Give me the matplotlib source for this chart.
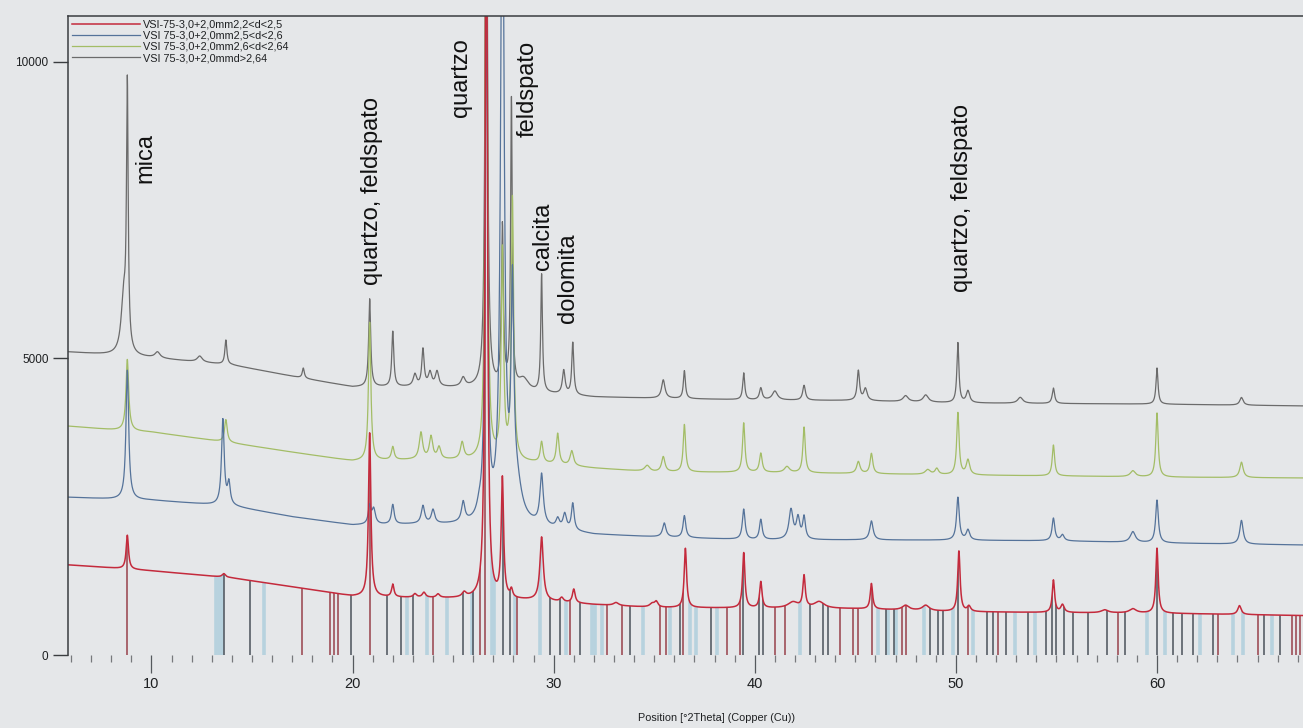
import numpy as np
import matplotlib
matplotlib.use('Agg')
import matplotlib.pyplot as plt
from matplotlib import font_manager

# ---------------- data ----------------
series_labels = ['VSI-75-3,0+2,0mm2,2<d<2,5',
                 'VSI 75-3,0+2,0mm2,5<d<2,6',
                 'VSI 75-3,0+2,0mm2,6<d<2,64',
                 'VSI 75-3,0+2,0mmd>2,64']

# background anchors (2theta) shared by all scans
base_x = [5.85, 8, 10, 14, 17, 20, 23, 26, 29, 32, 35, 40, 45, 50, 55, 60, 67.3]
red_base = [1520, 1470, 1420, 1300, 1150, 990, 965, 950, 920, 850, 800, 790, 780, 730, 715, 705, 665]
blue_base = [2660, 2630, 2610, 2510, 2330, 2190, 2200, 2190, 2160, 2030, 1990, 1940, 1940, 1935, 1925, 1890, 1855]
green_base = [3860, 3800, 3760, 3575, 3420, 3270, 3290, 3280, 3240, 3150, 3085, 3080, 3060, 3035, 3020, 3000, 2985]
gray_base = [5110, 5060, 5010, 4890, 4700, 4520, 4520, 4500, 4420, 4350, 4330, 4300, 4290, 4250, 4240, 4230, 4200]

# peaks: position (2theta), height above background (counts), half width (2theta)
red_pk_pos = [8.8, 13.6, 20.85, 22.0, 23.1, 23.55, 24.25, 25.55, 26.65, 27.45, 27.9, 29.4, 30.4, 31.0,
              33.1, 34.9, 35.1, 36.55, 39.45, 40.3, 41.9, 42.45, 43.2, 45.8, 47.5, 48.5, 50.15, 50.65,
              54.85, 55.3, 57.4, 58.8, 60.0, 64.1]
red_pk_h = [570, 60, 2760, 210, 60, 85, 60, 80, 14000, 2000, 130, 1070, 70, 230,
            50, 60, 90, 1000, 930, 440, 100, 530, 110, 430, 80, 90, 1020, 90,
            545, 130, 50, 70, 1095, 150]
red_pk_w = [0.07, 0.1, 0.07, 0.07, 0.1, 0.1, 0.1, 0.12, 0.06, 0.07, 0.07, 0.1, 0.1, 0.08,
            0.15, 0.15, 0.1, 0.07, 0.07, 0.07, 0.3, 0.07, 0.3, 0.07, 0.2, 0.2, 0.07, 0.1,
            0.07, 0.1, 0.2, 0.2, 0.07, 0.1]

blue_pk_pos = [8.8, 13.55, 13.85, 20.85, 21.05, 22.0, 23.5, 24.0, 25.5, 26.3, 26.65, 27.45, 27.95, 28.15,
               29.4, 30.2, 30.55, 30.95, 35.5, 36.5, 39.45, 40.3, 41.8, 42.15, 42.45, 45.8, 50.1, 50.6,
               54.85, 55.3, 58.8, 60.0, 64.2]
blue_pk_h = [2180, 1440, 360, 300, 250, 330, 300, 230, 330, 150, 9000, 12000, 3500, 600,
             840, 150, 250, 450, 235, 370, 510, 340, 500, 350, 370, 320, 720, 170,
             380, 100, 180, 720, 400]
blue_pk_w = [0.08, 0.08, 0.08, 0.08, 0.1, 0.08, 0.1, 0.1, 0.1, 0.15, 0.07, 0.1, 0.08, 0.3,
             0.1, 0.1, 0.1, 0.08, 0.1, 0.08, 0.08, 0.08, 0.12, 0.1, 0.08, 0.1, 0.08, 0.1,
             0.08, 0.1, 0.15, 0.08, 0.1]

green_pk_pos = [8.8, 13.7, 20.85, 22.0, 23.4, 23.9, 24.3, 25.45, 26.65, 27.45, 27.95, 29.4, 30.2, 30.9,
                34.65, 35.45, 36.5, 39.45, 40.3, 41.6, 42.45, 45.15, 45.8, 48.6, 49.05, 50.1, 50.6,
                54.85, 58.8, 60.0, 64.2]
green_pk_h = [1200, 380, 2330, 220, 450, 380, 200, 280, 12000, 3500, 4400, 350, 520, 250,
              100, 255, 800, 830, 320, 100, 770, 200, 340, 80, 100, 1045, 250,
              520, 100, 1080, 260]
green_pk_w = [0.08, 0.08, 0.07, 0.08, 0.1, 0.1, 0.1, 0.1, 0.06, 0.07, 0.07, 0.08, 0.08, 0.1,
              0.15, 0.1, 0.07, 0.07, 0.08, 0.15, 0.07, 0.1, 0.08, 0.15, 0.1, 0.07, 0.1,
              0.07, 0.15, 0.07, 0.1]

gray_pk_pos = [8.62, 8.8, 10.3, 12.4, 13.7, 17.55, 20.85, 22.0, 23.1, 23.5, 23.85, 24.2, 25.5, 26.65,
               27.45, 27.9, 28.5, 29.4, 30.5, 30.95, 35.45, 36.5, 39.45, 40.3, 41.0, 42.45, 45.15,
               45.5, 47.5, 48.5, 50.1, 50.6, 53.2, 54.85, 60.0, 64.2]
gray_pk_h = [950, 4350, 100, 100, 410, 170, 1480, 930, 200, 620, 230, 250, 150, 12000,
             2700, 4850, 200, 1980, 400, 880, 310, 470, 450, 200, 150, 250, 500,
             200, 100, 120, 1010, 200, 100, 260, 610, 130]
gray_pk_w = [0.15, 0.05, 0.15, 0.15, 0.06, 0.06, 0.06, 0.06, 0.1, 0.07, 0.1, 0.1, 0.12, 0.06,
             0.06, 0.05, 0.3, 0.05, 0.08, 0.06, 0.1, 0.06, 0.06, 0.08, 0.15, 0.08, 0.07,
             0.1, 0.15, 0.15, 0.06, 0.1, 0.15, 0.07, 0.06, 0.1]

# reference patterns (stick positions, 2theta)
sticks_lightblue = [13.2, 13.35, 13.5, 15.6, 22.7, 23.7, 24.7, 25.95, 26.95, 27.05, 28.1, 29.3, 30.6,
                    31.9, 32.05, 32.4, 34.45, 35.8, 36.8, 37.1, 38.1, 42.25, 46.15, 46.6, 47.0, 48.4,
                    49.85, 50.85, 52.95, 53.95, 59.5, 60.4, 62.15, 63.8, 64.3, 65.7]
sticks_dark = [13.6, 14.9, 19.9, 21.7, 22.4, 23.0, 25.5, 26.0, 27.5, 27.85, 29.8, 30.3, 31.3, 33.8,
               36.3, 37.8, 39.4, 40.2, 40.4, 42.75, 43.4, 43.65, 46.5, 46.9, 48.7, 49.1, 49.35, 50.1,
               51.55, 51.85, 52.5, 53.6, 54.5, 54.8, 55.0, 55.4, 55.8, 56.55, 57.5, 58.4, 60.0, 60.8,
               61.25, 61.8, 62.8, 65.3, 66.1]
sticks_brown = [8.8, 17.5, 18.9, 19.1, 19.3, 20.85, 24.0, 26.35, 26.6, 28.2, 30.8, 32.65, 33.4, 35.3,
                35.6, 36.45, 38.6, 39.25, 41.0, 41.5, 44.25, 44.9, 45.15, 45.85, 47.3, 47.5, 50.6,
                52.1, 58.05, 63.05, 65.0, 66.7, 66.9, 67.1]

ann_text = ['mica', 'quartzo, feldspato', 'quartzo', 'feldspato', 'calcita', 'dolomita',
            'quartzo, feldspato']
ann_x = [9.7, 20.95, 25.41, 28.69, 29.48, 30.73, 50.31]
ann_y = [7960, 6240, 9070, 8730, 6490, 5600, 6120]

major_ticks = [10, 20, 30, 40, 50, 60]
minor_ticks = list(range(6, 68))
y_ticks = [0, 5000, 10000]

# ---------------- styling ----------------
avail = {f.name for f in font_manager.fontManager.ttflist}
SANS = 'Liberation Sans' if 'Liberation Sans' in avail else 'DejaVu Sans'
NARROW = 'Liberation Sans Narrow' if 'Liberation Sans Narrow' in avail else SANS
plt.rcParams['font.family'] = [SANS, 'DejaVu Sans']

BG = '#e5e7e9'
INK = '#1e2022'
col_red = '#c42a3c'
col_blue = '#55739a'
col_green = '#a3bd66'
col_gray = '#6b6b6b'

fig = plt.figure(figsize=(13.03, 7.28), dpi=100, facecolor=BG)
ax = fig.add_axes([68 / 1303, 1 - 655 / 728, 1 - 68 / 1303, (655 - 16) / 728])
ax.set_facecolor(BG)

x = np.arange(5.85, 67.3, 0.01)


def scan(base, pos, h, w):
    y = np.interp(x, base_x, base)
    for p, hh, ww in zip(pos, h, w):
        y = y + hh / (1.0 + ((x - p) / ww) ** 2)
    return y


y_red = scan(red_base, red_pk_pos, red_pk_h, red_pk_w)
y_blue = scan(blue_base, blue_pk_pos, blue_pk_h, blue_pk_w)
y_green = scan(green_base, green_pk_pos, green_pk_h, green_pk_w)
y_gray = scan(gray_base, gray_pk_pos, gray_pk_h, gray_pk_w)

# reference sticks, hidden above the lowest scan
ax.vlines(sticks_lightblue, 0, 20000, colors='#b7d2de', lw=2.6, zorder=1)
ax.vlines(sticks_brown, 0, 20000, colors='#a8646c', lw=1.4, zorder=1.1)
ax.vlines(sticks_dark, 0, 20000, colors='#4b525a', lw=1.1, zorder=1.2)
ax.fill_between(x, y_red, 30000, color=BG, lw=0, zorder=1.5)

l4, = ax.plot(x, y_gray, color=col_gray, lw=0.9, zorder=2)
l3, = ax.plot(x, y_green, color=col_green, lw=0.9, zorder=2.1)
l2, = ax.plot(x, y_blue, color=col_blue, lw=0.9, zorder=2.2)
l1, = ax.plot(x, y_red, color=col_red, lw=1.1, zorder=2.3)

ax.set_xlim(5.85, 67.26)
ax.set_ylim(0, 10775)

for t, tx, ty in zip(ann_text, ann_x, ann_y):
    ax.text(tx, ty, t, rotation=90, ha='center', va='bottom', fontsize=17,
            color='#111111', zorder=4)

leg = ax.legend([l1, l2, l3, l4], series_labels, loc='upper left', bbox_to_anchor=(0, 1),
                frameon=False, handlelength=6.3, handletextpad=0.3, labelspacing=0.1,
                borderaxespad=0, borderpad=0.35,
                prop={'family': NARROW, 'size': 7.8})
for txt in leg.get_texts():
    txt.set_color(INK)

# axes decoration
for s in ['bottom', 'right']:
    ax.spines[s].set_visible(False)
ax.spines['left'].set_color('#3a3d40')
ax.spines['top'].set_color('#3a3d40')
ax.spines['left'].set_linewidth(1.1)
ax.spines['top'].set_linewidth(1.1)

ax.set_xticks(major_ticks)
ax.set_xticks([m for m in minor_ticks if m not in major_ticks], minor=True)
ax.set_yticks(y_ticks)
ax.set_xticklabels([str(v) for v in major_ticks], fontsize=10.5, color=INK, family=NARROW)
ax.set_yticklabels([str(v) for v in y_ticks], fontsize=8.5, color=INK, family=NARROW)
ax.tick_params(axis='x', which='major', direction='out', length=13, width=0.9,
               color='#55595d', pad=3)
ax.tick_params(axis='x', which='minor', direction='out', length=5, width=0.9, color='#77797c')
ax.tick_params(axis='y', which='major', direction='out', length=11, width=1.0,
               color='#3a3d40', pad=3)

fig.text(716 / 1303, 1 - 718 / 728, 'Position [°2Theta] (Copper (Cu))', ha='center',
         va='center', fontsize=7.8, color=INK, family=NARROW)

fig.savefig('out.png', dpi=100, facecolor=BG)
